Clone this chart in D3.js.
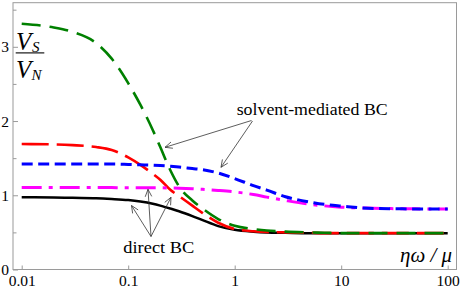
<!DOCTYPE html>
<html><head><meta charset="utf-8">
<script src="https://cdn.jsdelivr.net/npm/d3@7"></script>
<style>
html,body{margin:0;padding:0;background:#fff;}
svg{display:block;}
</style></head>
<body>
<svg id="chart" width="463" height="290"></svg>
<script>
// ---- data ----
const omega = [0.01,0.02,0.03,0.05,0.07,0.1,0.13,0.17,0.2,0.25,0.3,0.4,0.5,0.7,1,1.5,2,3,5,7,10,20,50,100];
const greenDirect   = [3.31,3.26,3.20,3.05,2.84,2.51,2.22,1.88,1.65,1.33,1.12,0.93,0.82,0.68,0.59,0.545,0.525,0.51,0.50,0.495,0.49,0.49,0.49,0.49];
const redDirect     = [1.69,1.685,1.675,1.65,1.61,1.51,1.41,1.29,1.21,1.07,0.99,0.86,0.76,0.63,0.545,0.515,0.505,0.50,0.495,0.49,0.49,0.49,0.49,0.49];
const blackDirect   = [0.973,0.97,0.965,0.96,0.95,0.935,0.915,0.885,0.86,0.82,0.785,0.72,0.665,0.585,0.535,0.51,0.50,0.495,0.49,0.49,0.49,0.49,0.49,0.49];
const blueSolvent   = [1.42,1.42,1.42,1.42,1.42,1.415,1.41,1.405,1.40,1.39,1.38,1.36,1.345,1.30,1.225,1.13,1.07,0.98,0.91,0.877,0.855,0.822,0.816,0.815];
const magentaSolvent= [1.105,1.105,1.105,1.105,1.103,1.10,1.10,1.10,1.10,1.098,1.095,1.088,1.08,1.065,1.045,1.01,0.975,0.93,0.88,0.857,0.84,0.825,0.817,0.815];
const xTickLabels = ["0.01","0.1","1","10","100"];
const xTickValues = [0.01,0.1,1,10,100];
const yTickValues = [0,1,2,3];
const yMinorTicks = [0.5,1.5,2.5,3.5];

const series = [
  {vals: blackDirect,    color:"#000000", width:2.5, dash:null},
  {vals: redDirect,      color:"#ff0000", width:2.6, dash:"27,8"},
  {vals: magentaSolvent, color:"#ff00ff", width:3,   dash:"20,7,4,7"},
  {vals: blueSolvent,    color:"#0000ff", width:3,   dash:"11,5.5"},
  {vals: greenDirect,    color:"#008000", width:2.6, dash:"19,9"}
];

const SERIF = "'Liberation Serif','DejaVu Serif','Noto Serif','Times New Roman',serif";

// ---- layout ----
const svg = d3.select("#chart");
const x = d3.scaleLog().domain([0.01,100]).range([21.7,447.7]);
const y = d3.scaleLinear().domain([0,3.59]).range([269.5,3]);
const frameL = 13, frameR = 456.5, frameT = 2.7, frameB = 269.5;
const gray = "#9a9a9a";

// frame
svg.append("rect").attr("x",frameL).attr("y",frameT)
  .attr("width",frameR-frameL).attr("height",frameB-frameT)
  .attr("fill","none").attr("stroke",gray).attr("stroke-width",1);

// x axis
const xAxis = svg.append("g").attr("transform",`translate(0,${frameB})`)
  .call(d3.axisBottom(x).tickValues(xTickValues).tickSize(-4).tickPadding(5.5)
    .tickFormat((d,i)=>xTickLabels[i]));
xAxis.attr("font-family",SERIF);
xAxis.select(".domain").remove();
xAxis.selectAll(".tick line").attr("stroke",gray);
xAxis.selectAll(".tick text").attr("font-size",15.5).attr("fill","#000").attr("font-family",SERIF);

// y axis
const yAxis = svg.append("g").attr("transform",`translate(${frameL},0)`)
  .call(d3.axisLeft(y).tickValues(yTickValues).tickSize(-5).tickPadding(4).tickFormat(d3.format("d")));
yAxis.attr("font-family",SERIF);
yAxis.select(".domain").remove();
yAxis.selectAll(".tick line").attr("stroke",gray);
yAxis.selectAll(".tick text").attr("font-size",15.5).attr("fill","#000").attr("font-family",SERIF);
const yMinor = svg.append("g").attr("transform",`translate(${frameL},0)`)
  .call(d3.axisLeft(y).tickValues(yMinorTicks).tickSize(-3.5).tickFormat(""));
yMinor.select(".domain").remove();
yMinor.selectAll(".tick line").attr("stroke",gray);

// curves
const line = d3.line().x((d,i)=>x(omega[i])).y(d=>y(d)).curve(d3.curveMonotoneX);
series.forEach(s=>{
  svg.append("path").datum(s.vals).attr("d",line)
    .attr("fill","none").attr("stroke",s.color).attr("stroke-width",s.width)
    .attr("stroke-dasharray",s.dash);
});

// annotations (arrows)
function arrow(x1,y1,x2,y2){
  svg.append("line").attr("x1",x1).attr("y1",y1).attr("x2",x2).attr("y2",y2)
    .attr("stroke","#333").attr("stroke-width",0.8);
  const a = Math.atan2(y1-y2,x1-x2), L=8, w=0.42;
  const p1=[x2+L*Math.cos(a+w), y2+L*Math.sin(a+w)];
  const p2=[x2+L*Math.cos(a-w), y2+L*Math.sin(a-w)];
  svg.append("path").attr("d",`M${p1[0]},${p1[1]}L${x2},${y2}L${p2[0]},${p2[1]}`)
    .attr("fill","none").attr("stroke","#333").attr("stroke-width",0.8);
}
arrow(251.5,120.5,165,147.3);
arrow(252.5,121,221,167.3);
arrow(151,236.5,131.5,205.5);
arrow(151,236.5,148,189.3);
arrow(151,236.5,171,197.3);

function txt(xp,yp,size,str,opts={}){
  const t = svg.append("text").attr("x",xp).attr("y",yp).attr("font-size",size)
    .attr("font-family",SERIF).attr("fill","#000").text(str);
  if(opts.italic) t.attr("font-style","italic");
  if(opts.len) t.attr("textLength",opts.len).attr("lengthAdjust","spacingAndGlyphs");
  return t;
}
txt(236.7,115,16.5,"solvent-mediated BC",{len:151});
txt(123.3,253,16.5,"direct BC",{len:71});

// y label V_S / V_N
txt(16,50,25,"V",{italic:true});
txt(32,51.7,15,"S",{italic:true});
svg.append("line").attr("x1",15.7).attr("x2",44.3).attr("y1",52.9).attr("y2",52.9)
  .attr("stroke","#000").attr("stroke-width",1.1);
txt(16,78.3,25,"V",{italic:true});
txt(31.5,80,15,"N",{italic:true});

// x label
txt(400,261.7,22,"ηω / μ",{italic:true,len:52});
</script>
</body></html>
